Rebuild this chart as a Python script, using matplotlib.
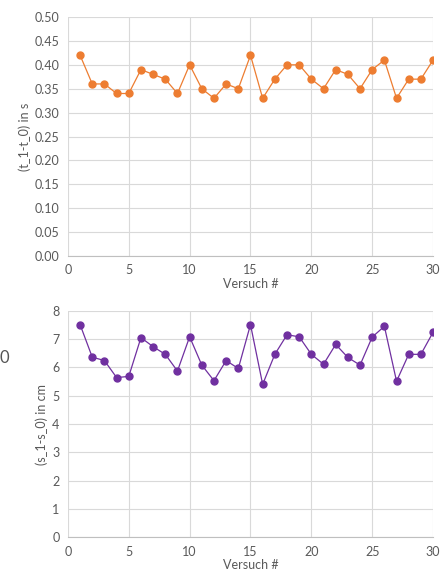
import matplotlib
matplotlib.use("Agg")
import matplotlib.pyplot as plt

versuch = list(range(1, 31))
dt_values = [0.42, 0.36, 0.36, 0.34, 0.34, 0.39, 0.38, 0.37, 0.34, 0.40,
             0.35, 0.33, 0.36, 0.35, 0.42, 0.33, 0.37, 0.40, 0.40, 0.37,
             0.35, 0.39, 0.38, 0.35, 0.39, 0.41, 0.33, 0.37, 0.37, 0.41]
ds_values = [7.51, 6.36, 6.24, 5.64, 5.68, 7.05, 6.73, 6.46, 5.87, 7.08,
             6.08, 5.53, 6.24, 5.96, 7.51, 5.40, 6.46, 7.15, 7.08, 6.46,
             6.11, 6.81, 6.35, 6.08, 7.07, 7.45, 5.51, 6.46, 6.46, 7.24]
x_ticks = [0, 5, 10, 15, 20, 25, 30]
dt_ticks = [i * 0.05 for i in range(11)]
ds_ticks = list(range(0, 9))

plt.rcParams['font.family'] = ['Lato', 'DejaVu Sans']
txt = '#595959'
grid = '#d9d9d9'

fig = plt.figure(figsize=(4.41, 5.77), dpi=100)
ax1 = fig.add_axes([0.154, 0.5563, 0.828, 0.4142])
ax2 = fig.add_axes([0.154, 0.0688, 0.828, 0.3927])

def style(ax, yticks, yfmt, ylabel):
    ax.set_xlim(0, 30)
    ax.set_xticks(x_ticks)
    ax.set_yticks(yticks)
    ax.set_yticklabels([yfmt(v) for v in yticks])
    ax.set_ylim(yticks[0], yticks[-1])
    ax.grid(True, color=grid, linewidth=0.8)
    ax.set_axisbelow(True)
    for s in ['top', 'right', 'left']:
        ax.spines[s].set_visible(False)
    ax.spines['bottom'].set_color('#bfbfbf')
    ax.spines['bottom'].set_linewidth(0.8)
    ax.tick_params(length=0, colors=txt, labelsize=9, pad=6)
    ax.set_xlabel('Versuch #', color=txt, fontsize=9, labelpad=1)
    ax.set_ylabel(ylabel, color=txt, fontsize=9, labelpad=3)

ax1.plot(versuch, dt_values, color='#ED7D31', marker='o', markersize=5,
         linewidth=0.9, zorder=3)
style(ax1, dt_ticks, lambda v: f'{v:.2f}', '(t_1-t_0) in s')

ax2.plot(versuch, ds_values, color='#7030A0', marker='o', markersize=5,
         linewidth=0.9, zorder=3)
style(ax2, ds_ticks, lambda v: f'{v:d}', '(s_1-s_0) in cm')

fig.text(0.0, 1 - 358 / 577, '0', color='#555555', fontsize=12, va='center', ha='left')

fig.savefig('out.png', dpi=100)
